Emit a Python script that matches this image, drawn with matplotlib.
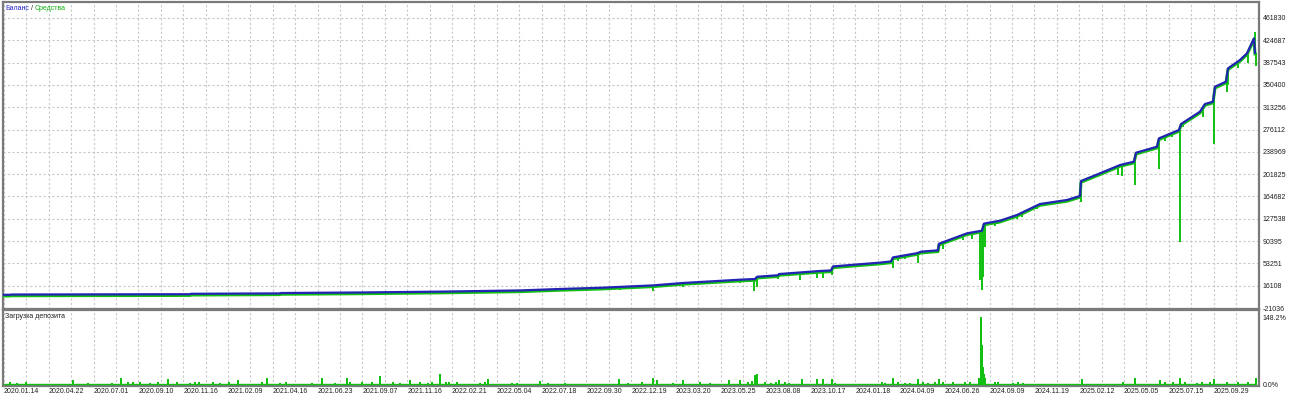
import numpy as np
import matplotlib.pyplot as plt
from matplotlib.transforms import offset_copy

plt.rcParams['font.family'] = ['Liberation Sans Narrow', 'Liberation Sans', 'DejaVu Sans']

# balance curve (trade number -> balance)
bal_trade = [1, 7, 8, 187, 188, 277, 278, 357, 437, 517, 557, 597, 650, 680, 737, 752,
             754, 775, 776, 817, 828, 830, 877, 888, 890, 914, 918, 935, 936, 964, 979,
             981, 997, 1014, 1037, 1064, 1077, 1078, 1097, 1117, 1131, 1133, 1154, 1156,
             1176, 1178, 1197, 1202, 1210, 1212, 1223, 1225, 1237, 1244, 1251, 1252]
bal_value = [1000, 1000, 1400, 1900, 2600, 3300, 3900, 4800, 6200, 8200, 10600, 12600,
             16600, 20600, 26100, 27200, 31000, 33500, 35500, 40600, 41500, 48200, 54500,
             56500, 63200, 70200, 72700, 75000, 86000, 103300, 107700, 119500, 124300,
             133800, 152100, 158800, 165500, 190400, 203200, 217000, 222600, 237500,
             247500, 261500, 275300, 285300, 305800, 318600, 322500, 347400, 355800,
             378000, 391900, 403000, 428000, 404000]

# equity extremes between balance points
dip_trade = [14, 297, 407, 617, 650, 680, 737, 751, 754, 775, 797, 814, 820, 829, 890,
             895, 902, 915, 935, 940, 960, 969, 977, 979, 980, 982, 992, 995, 1014, 1019,
             1034, 1064, 1078, 1115, 1119, 1132, 1156, 1162, 1169, 1177, 1180, 1190,
             1200, 1211, 1224, 1225, 1235, 1245, 1253, 1252]
dip_value = [-800, 2000, 3500, 9500, 7770, 13100, 20590, 7770, 14430, 26770, 25600,
             28420, 29420, 33900, 45060, 57720, 59720, 54390, 71040, 77200, 92190, 93350,
             25600, 8930, 31070, 81040, 115500, 118830, 126660, 131000, 143300, 156000,
             155500, 200420, 198750, 183760, 209910, 257530, 263190, 89350, 279840,
             293160, 296490, 252030, 339110, 350270, 378000, 386400, 381900, 439000]

# deposit load, %
load_trade = [7, 14, 23, 60, 70, 85, 109, 118, 125, 130, 137, 147, 155, 165, 174, 187,
              192, 196, 210, 217, 226, 235, 259, 264, 277, 283, 309, 319, 332, 344, 347,
              359, 369, 377, 390, 397, 407, 417, 425, 429, 437, 443, 446, 454, 477, 482,
              485, 509, 514, 537, 545, 562, 580, 599, 616, 625, 639, 650, 654, 670, 680,
              697, 707, 715, 726, 737, 745, 749, 752, 754, 762, 768, 773, 776, 782, 786,
              799, 814, 820, 829, 832, 845, 852, 879, 882, 890, 895, 902, 907, 915, 920,
              925, 932, 936, 940, 950, 962, 967, 976, 978, 979, 980, 981, 982, 992, 995,
              1010, 1015, 1020, 1035, 1079, 1090, 1110, 1120, 1132, 1157, 1162, 1170,
              1177, 1182, 1194, 1199, 1207, 1211, 1224, 1235, 1245, 1253]
load_pct = [6, 5, 6.5, 3, 11, 3.5, 3.5, 14.5, 7, 6, 7, 4, 7, 13, 6, 4, 7, 7, 6, 4, 6, 10,
            7, 14.5, 4, 6, 4, 14.5, 4, 14.5, 6, 7, 6, 19, 6, 4, 10, 6, 4, 7, 23, 6, 6, 6,
            4, 6, 13, 4, 4, 9, 4, 4, 3, 3, 12, 4, 6, 14.5, 10, 4, 10, 7, 4, 3, 10, 10, 7,
            9, 22, 23, 6, 4, 7, 10, 6, 4, 13, 13, 12, 13, 4, 3, 3, 6, 4, 14.5, 6, 4, 4,
            13, 7, 4, 6, 13, 7, 6, 6, 7, 14.5, 148.2, 87, 40, 25, 14.5, 7, 7, 4, 6, 4, 3,
            12, 3, 3, 7, 14.5, 10, 6, 6, 16, 6, 4, 6, 7, 12, 7, 6, 7, 14.5]
load_floor = 1.2

y_ticks = [-21036, 16108, 53251, 90395, 127538, 164682, 201825, 238969, 276112,
           313256, 350400, 387543, 424687, 461830]
date_labels = ['2020.01.14', '2020.04.22', '2020.07.01', '2020.09.10', '2020.11.16',
               '2021.02.09', '2021.04.16', '2021.06.23', '2021.09.07', '2021.11.16',
               '2022.02.21', '2022.05.04', '2022.07.18', '2022.09.30', '2022.12.19',
               '2023.03.20', '2023.05.25', '2023.08.08', '2023.10.17', '2024.01.18',
               '2024.04.09', '2024.06.26', '2024.09.09', '2024.11.19', '2025.02.12',
               '2025.05.05', '2025.07.15', '2025.09.29']

BLUE = '#2323b4'
GREEN = '#12c012'
FRAME = '#7a7a7a'
GRID = '#c8c8c8'
TXT = '#1e1e1e'
FS = 5.0

W, H = 1290, 397
fig = plt.figure(figsize=(W / 100, H / 100), dpi=100)
ax = fig.add_axes([3 / W, 1 - 309 / H, 1256 / W, 307 / H])
axl = fig.add_axes([3 / W, 1 - 386 / H, 1256 / W, 76 / H])

grid_x = 1 + 22.4 * np.arange(57)
label_x = grid_x[::2][:len(date_labels)]

# --- balance / equity panel ---
green_tr = offset_copy(ax.transData, fig=fig, x=0, y=-1.2, units='dots')
ax.plot(bal_trade, bal_value, color=GREEN, lw=2.2, transform=green_tr, zorder=3)
dip_base = np.interp(dip_trade, bal_trade, bal_value)
ax.vlines(dip_trade, dip_base, dip_value, color=GREEN, lw=1.4, zorder=3)
ax.plot(bal_trade, bal_value, color=BLUE, lw=1.6, zorder=4)

ax.set_xlim(0, 1256)
ax.set_ylim(-22700, 488470)
ax.set_yticks(y_ticks)
ax.set_yticklabels([str(v) for v in y_ticks])
ax.yaxis.tick_right()
ax.tick_params(axis='y', length=0, pad=2.5, labelsize=FS, colors=TXT)
ax.set_xticks(grid_x)
ax.tick_params(axis='x', length=0, labelbottom=False)
ax.grid(True, color=GRID, lw=0.8, linestyle=(0, (2, 2)))
for s in ax.spines.values():
    s.set_color(FRAME)
    s.set_linewidth(1.6)

t1 = ax.text(2 / 1256, 1 - 6 / 307, 'Баланс', color='#2020c8', fontsize=FS,
             transform=ax.transAxes, va='center', ha='left')
t2 = ax.annotate('/', xy=(1, 0.5), xycoords=t1, xytext=(1.5, 0), textcoords='offset points',
                 color=TXT, fontsize=FS, va='center', ha='left')
ax.annotate('Средства', xy=(1, 0.5), xycoords=t2, xytext=(1.5, 0), textcoords='offset points',
            color='#10b010', fontsize=FS, va='center', ha='left')

# --- deposit load panel ---
axl.bar(load_trade, load_pct, width=1.4, color=GREEN, zorder=3)
axl.plot([bal_trade[0], bal_trade[-1]], [load_floor, load_floor], color=GREEN, lw=1, zorder=3)
axl.set_xlim(0, 1256)
axl.set_ylim(-2.2, 163.5)
axl.set_yticks([0, 148.2])
axl.set_yticklabels(['0.0%', '148.2%'])
axl.yaxis.tick_right()
axl.tick_params(axis='y', length=0, pad=2.5, labelsize=FS, colors=TXT)
axl.set_xticks(grid_x)
axl.set_xticklabels(['' for _ in grid_x])
axl.xaxis.grid(True, color=GRID, lw=0.8, linestyle=(0, (2, 2)))
axl.tick_params(axis='x', length=0)
for xv, lab in zip(label_x, date_labels):
    axl.text(xv, -0.03, lab, transform=axl.get_xaxis_transform(), fontsize=FS,
             ha='left', va='top', color=TXT)
for s in axl.spines.values():
    s.set_color(FRAME)
    s.set_linewidth(1.6)
axl.text(2 / 1256, 1 - 7 / 76, 'Загрузка депозита', color=TXT, fontsize=FS,
         transform=axl.transAxes, va='center', ha='left')

fig.savefig('out.png', dpi=100)
